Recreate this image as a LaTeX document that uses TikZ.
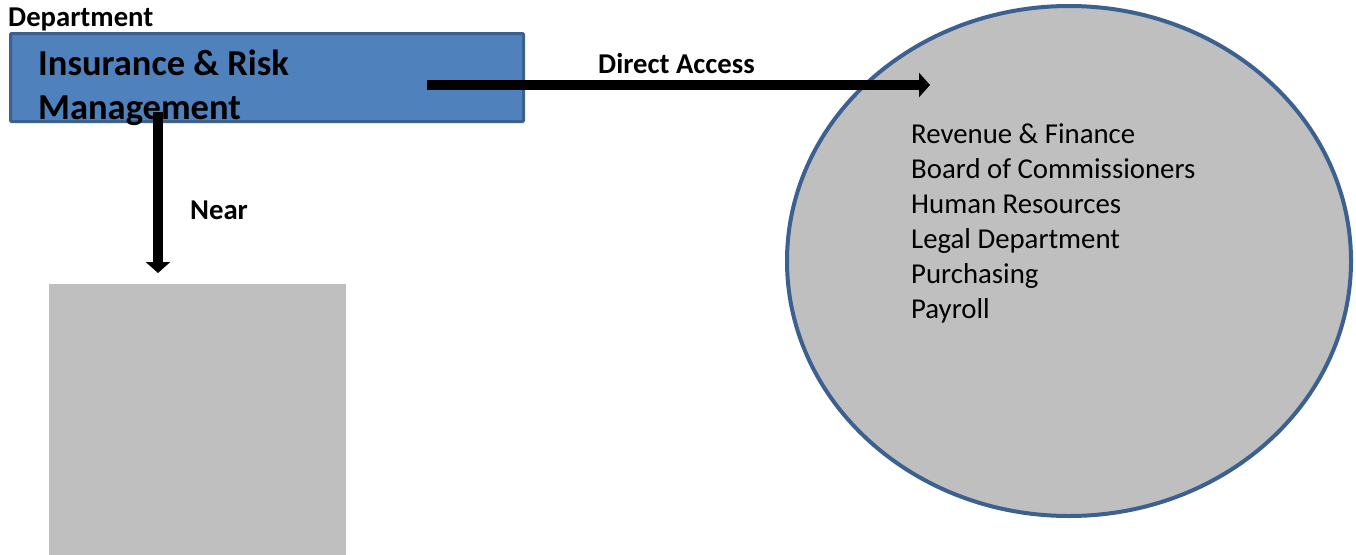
\documentclass[tikz,border=0pt]{standalone}
\usepackage{fontspec}
\setmainfont{Carlito}
\usetikzlibrary{arrows.meta,shapes.geometric}
\definecolor{boxblue}{HTML}{4F81BD}
\definecolor{edgeblue}{HTML}{3C6191}
\definecolor{panelgray}{HTML}{BFBFBF}
\tikzset{
  labelbold/.style={font=\fontsize{28.7}{34}\selectfont\bfseries, inner sep=0pt, anchor=base west},
  titletext/.style={font=\fontsize{36.5}{42}\selectfont\bfseries, inner sep=0pt, anchor=base west},
  listtext/.style={font=\fontsize{28.8}{35}\selectfont, inner sep=0pt, anchor=base west},
  fatarrow/.style={line width=10pt, -{Triangle[length=11pt,width=24pt]}},
}
\begin{document}
\begin{tikzpicture}[x=1pt,y=-1pt]
\useasboundingbox (0,0) rectangle (1356,554);
% ellipse group
\node[ellipse, draw=edgeblue, line width=4pt, fill=panelgray,
      minimum width=564pt, minimum height=510pt, inner sep=0pt] (grp) at (1069,261) {};
% gray square
\node[rectangle, fill=panelgray, minimum width=297pt, minimum height=280pt,
      inner sep=0pt, anchor=north west] (nearbox) at (49,284) {};
% department box
\node[rectangle, draw=edgeblue, line width=3pt, fill=boxblue, rounded corners=1pt,
      minimum width=513pt, minimum height=88pt, inner sep=0pt, anchor=north west] (irm) at (9,32) {};
\node[labelbold] (dept) at (8,26) {Department};
\node[titletext] (t1) at (38,75) {Insurance \& Risk};
\node[titletext] (t2) at (38,119) {Management};
% list
\node[listtext] (l1) at (911,143) {Revenue \& Finance};
\node[listtext] (l2) at (911,178) {Board of Commissioners};
\node[listtext] (l3) at (911,213) {Human Resources};
\node[listtext] (l4) at (911,248) {Legal Department};
\node[listtext] (l5) at (911,283) {Purchasing};
\node[listtext] (l6) at (911,318) {Payroll};
% connectors
\coordinate (da0) at (427,85);
\coordinate (da1) at (930,85);
\coordinate (nr0) at (158,112);
\coordinate (nr1) at (158,273);
\draw[fatarrow] (da0) -- (da1);
\draw[fatarrow] (nr0) -- (nr1);
\node[labelbold] (dalab) at (598,73) {Direct Access};
\node[labelbold] (nrlab) at (190,219) {Near};
\end{tikzpicture}
\end{document}
